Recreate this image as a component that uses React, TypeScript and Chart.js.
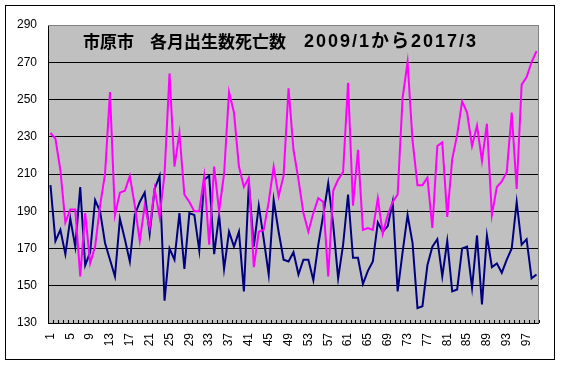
import React, { useEffect, useRef } from 'react';
import { Chart, registerables } from 'chart.js';

Chart.register(...registerables);

const TITLE_PARTS = ['市原市', '各月出生数死亡数', '2009/1から2017/3'];

const MONTHS: string[] = Array.from({ length: 99 }, (_, i) => String(i + 1));

// 死亡数 (magenta)
const DEATHS: number[] = [
  232, 229, 212, 184, 191, 191, 155, 189, 162, 171,
  193, 210, 254, 188, 200, 201, 209, 193, 174, 193,
  181, 202, 187, 210, 264, 214, 232, 199, 195, 190,
  190, 209, 172, 214, 190, 210, 254, 243, 214, 203,
  208, 160, 179, 180, 195, 214, 198, 209, 256, 223,
  207, 189, 179, 189, 197, 195, 155, 201, 207, 211,
  259, 193, 223, 180, 181, 180, 197, 178, 188, 195,
  199, 251, 270, 228, 204, 204, 208, 181, 225, 227,
  187, 218, 231, 249, 243, 225, 236, 217, 237, 188,
  203, 206, 211, 243, 202, 258, 262, 270, 276,
];

// 出生数 (navy)
const BIRTHS: number[] = [
  204, 174, 180, 167, 186, 171, 203, 161, 168, 196,
  190, 173, 164, 155, 186, 175, 163, 188, 195, 200,
  178, 202, 209, 142, 170, 164, 189, 159, 189, 188,
  169, 207, 209, 167, 188, 159, 179, 171, 179, 147,
  205, 171, 193, 175, 156, 196, 179, 164, 163, 168,
  156, 164, 164, 153, 172, 188, 205, 183, 154, 172,
  199, 165, 165, 151, 158, 163, 184, 179, 182, 195,
  147, 168, 188, 173, 138, 139, 161, 171, 175, 155,
  174, 147, 148, 170, 171, 149, 177, 140, 177, 160,
  162, 157, 164, 170, 195, 172, 175, 154, 156,
];

const Y_MIN = 130;
const Y_MAX = 290;
const Y_STEP = 20;

const framePlugin = {
  id: 'framePlugin',
  beforeDraw(chart: any) {
    const { ctx, chartArea: a } = chart;
    ctx.save();
    ctx.fillStyle = '#ffffff';
    ctx.fillRect(0, 0, chart.width, chart.height);
    ctx.fillStyle = '#C0C0C0';
    ctx.fillRect(a.left, a.top, a.right - a.left, a.bottom - a.top);
    ctx.restore();
  },
  beforeDatasetsDraw(chart: any) {
    const { ctx, chartArea: a } = chart;
    ctx.save();
    // gray plot-area border (top / right)
    ctx.strokeStyle = '#808080';
    ctx.lineWidth = 1;
    ctx.beginPath();
    ctx.moveTo(a.left, Math.round(a.top) + 0.5);
    ctx.lineTo(Math.round(a.right) - 0.5, Math.round(a.top) + 0.5);
    ctx.lineTo(Math.round(a.right) - 0.5, a.bottom);
    ctx.stroke();
    // inner tick marks on category axis
    const n = MONTHS.length;
    const w = (a.right - a.left) / n;
    ctx.strokeStyle = '#000000';
    ctx.beginPath();
    for (let i = 1; i <= n; i++) {
      const x = Math.round(a.left + i * w) + 0.5;
      ctx.moveTo(x, a.bottom);
      ctx.lineTo(x, a.bottom - 3);
    }
    ctx.stroke();
    ctx.restore();
  },
  afterDraw(chart: any) {
    const { ctx, chartArea: a } = chart;
    ctx.save();
    // outer chart border
    ctx.strokeStyle = '#000000';
    ctx.lineWidth = 1;
    ctx.strokeRect(5.5, 5.5, chart.width - 12, chart.height - 12);
    // title inside the plot area
    ctx.fillStyle = '#000000';
    ctx.textBaseline = 'middle';
    ctx.textAlign = 'left';
    const ty = a.top + 17;
    ctx.font = "bold 17px 'Noto Sans CJK JP'";
    ctx.fillText(TITLE_PARTS[0], a.left + 35, ty);
    ctx.fillText(TITLE_PARTS[1], a.left + 102, ty);
    ctx.font = "bold 18px 'Liberation Sans', 'Noto Sans CJK JP'";
    try { (ctx as any).letterSpacing = '2px'; } catch (e) {}
    ctx.fillText(TITLE_PARTS[2], a.left + 256, ty);
    ctx.restore();
  },
};

export default function App() {
  const canvasRef = useRef<HTMLCanvasElement | null>(null);

  useEffect(() => {
    if (!canvasRef.current) return;
    const chart = new Chart(canvasRef.current, {
      type: 'line',
      data: {
        labels: MONTHS,
        datasets: [
          {
            label: '死亡数',
            data: DEATHS,
            borderColor: '#FF00FF',
            backgroundColor: '#FF00FF',
            borderWidth: 2,
            pointRadius: 0,
            tension: 0,
            fill: false,
          },
          {
            label: '出生数',
            data: BIRTHS,
            borderColor: '#000080',
            backgroundColor: '#000080',
            borderWidth: 2,
            pointRadius: 0,
            tension: 0,
            fill: false,
          },
        ],
      },
      options: {
        animation: false,
        responsive: false,
        maintainAspectRatio: false,
        devicePixelRatio: 1,
        layout: { padding: { left: 0, right: 16, top: 25, bottom: 0 } },
        plugins: {
          legend: { display: false },
          title: { display: false },
          tooltip: { enabled: false },
        },
        scales: {
          x: {
            type: 'category',
            offset: true,
            grid: { display: true, drawOnChartArea: false, drawTicks: false },
            border: { display: true, color: '#000000', width: 1 },
            ticks: {
              autoSkip: false,
              minRotation: 90,
              maxRotation: 90,
              padding: 10,
              color: '#000000',
              font: { family: "'Liberation Sans', Arial, sans-serif", size: 12 },
              callback: (_v: any, idx: number) => (idx % 4 === 0 ? MONTHS[idx] : ''),
            },
            afterFit: (s: any) => { s.height = 43; },
          },
          y: {
            min: Y_MIN,
            max: Y_MAX,
            grid: {
              drawTicks: false,
              color: (c: any) => (c.tick && c.tick.value === Y_MAX ? '#808080' : '#000000'),
              lineWidth: 1,
            },
            border: { display: true, color: '#000000', width: 1 },
            ticks: {
              stepSize: Y_STEP,
              padding: 11,
              color: '#000000',
              font: { family: "'Liberation Sans', Arial, sans-serif", size: 12 },
            },
            afterFit: (s: any) => { s.width = 48; },
          },
        },
      },
      plugins: [framePlugin],
    });
    return () => chart.destroy();
  }, []);

  return (
    <div style={{ position: 'fixed', left: 0, top: 0, width: 561, height: 366, background: '#fff' }}>
      <canvas ref={canvasRef} width={561} height={366} style={{ display: 'block' }} />
    </div>
  );
}
